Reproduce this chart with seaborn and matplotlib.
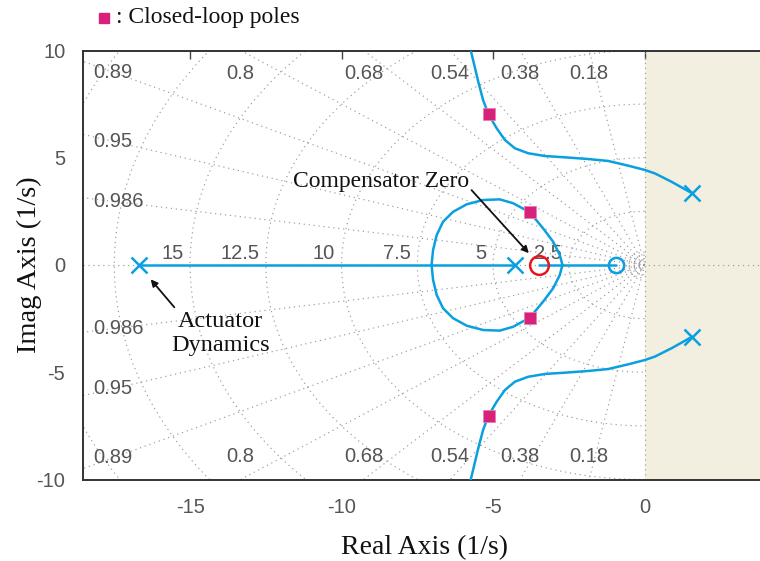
import numpy as np
import pandas as pd
import matplotlib
matplotlib.use("Agg")
import matplotlib.pyplot as plt
from matplotlib.lines import Line2D
import seaborn as sns

# Open-loop poles (x) and zeros (o)
pole_re = [-16.69, -4.28, 1.56, 1.56]
pole_im = [0.0, 0.0, 3.35, -3.35]
plant_zero_re = [-0.95]
plant_zero_im = [0.0]
comp_zero_re = [-3.5]
comp_zero_im = [0.0]

# Closed-loop poles at the chosen gain
cl_re = [-5.15, -3.79, -3.79, -5.15]
cl_im = [7.02, 2.46, -2.46, -7.02]

# Branch leaving the unstable pole pair (upper half, lower half is its conjugate)
branch_re = [1.56, 0.89, 0.34, 0.01, -0.54, -1.20, -1.86, -2.63, -3.29, -3.84,
             -4.28, -4.61, -4.88, -5.15, -5.33, -5.49, -5.62, -5.74]
branch_im = [3.35, 3.88, 4.27, 4.43, 4.63, 4.85, 4.94, 5.02, 5.08, 5.21,
             5.44, 5.83, 6.37, 7.02, 7.69, 8.55, 9.32, 10.02]

# Loop between breakaway and break-in points on the real axis (upper half)
loop_re = [-7.03, -6.98, -6.86, -6.65, -6.32, -5.87, -5.33, -4.78, -4.34,
           -3.79, -3.35, -3.02, -2.80, -2.71]
loop_im = [0.0, 0.70, 1.40, 2.02, 2.48, 2.83, 3.03, 3.06, 2.88,
           2.46, 1.71, 1.09, 0.47, 0.0]

# Real-axis locus segments
seg_a_re = [-16.69, -4.28]
seg_b_re = [-3.5, -0.95]

# s-plane grid
zeta_vals = [0.18, 0.38, 0.54, 0.68, 0.8, 0.89, 0.95, 0.986]
zeta_labels = ["0.18", "0.38", "0.54", "0.68", "0.8", "0.89", "0.95", "0.986"]
wn_vals = [2.5, 5, 7.5, 10, 12.5, 15, 17.5, 20]
wn_labels = ["2.5", "5", "7.5", "10", "12.5", "15", "", ""]
wn_small = [0.15, 0.3, 0.45, 0.6]

x_ticks = [-15, -10, -5, 0]
y_ticks = [-10, -5, 0, 5, 10]

LOCUS = "#0aa0e0"
RED = "#e8141e"
MAGENTA = "#d6227a"
BEIGE = "#f3efe0"
GRID = "#9a9a9a"
TICK_GRAY = "#555555"
SANS = ["Liberation Sans", "DejaVu Sans"]
SERIF = ["Liberation Serif", "DejaVu Serif"]

sns.set_theme(style="white")
plt.rcParams["font.family"] = SANS

fig = plt.figure(figsize=(7.6, 5.61), dpi=100)
ax = fig.add_axes([83.4 / 760, 81.5 / 561, 682.4 / 760, 429 / 561])
ax.set_xlim(-18.52, 4.0)
ax.set_ylim(-10, 10)

# right half-plane shading
ax.axvspan(0, 6, color=BEIGE, lw=0, zorder=0)

grid_kw = dict(color=GRID, lw=0.85, ls=(0, (1, 3.2)), zorder=1)
for z in zeta_vals:
    th = np.arccos(z)
    r = np.array([0.0, 40.0])
    ax.plot(-r * np.cos(th), r * np.sin(th), **grid_kw)
    ax.plot(-r * np.cos(th), -r * np.sin(th), **grid_kw)
ax.axhline(0, **grid_kw)
ax.axvline(0, **grid_kw)
t = np.linspace(np.pi / 2, 3 * np.pi / 2, 240)
for w in wn_vals + wn_small:
    ax.plot(w * np.cos(t), w * np.sin(t), **grid_kw)

lab_kw = dict(color=TICK_GRAY, fontsize=14.5, family=SANS, zorder=2)
for z, lab in zip(zeta_vals, zeta_labels):
    th = np.arccos(z)
    x_top = -10 / np.tan(th)
    if x_top > -18.0:
        ax.text(x_top, 8.95, lab, ha="center", va="center", **lab_kw)
        ax.text(x_top, -8.95, lab, ha="center", va="center", **lab_kw)
    else:
        yl = 17.5 * np.tan(th)
        ax.text(-18.2, yl, lab, ha="left", va="center", **lab_kw)
        ax.text(-18.2, -yl, lab, ha="left", va="center", **lab_kw)
for w, lab in zip(wn_vals, wn_labels):
    if lab:
        ax.text(-w - 0.22, 0.3, lab, ha="right", va="baseline", **lab_kw)

# root-locus branches
line_kw = dict(color=LOCUS, lw=1.8, sort=False, estimator=None, legend=False, ax=ax, zorder=3)
sns.lineplot(x=branch_re, y=branch_im, **line_kw)
sns.lineplot(x=branch_re, y=[-v for v in branch_im], **line_kw)
sns.lineplot(x=loop_re, y=loop_im, **line_kw)
sns.lineplot(x=loop_re, y=[-v for v in loop_im], **line_kw)
sns.lineplot(x=seg_a_re, y=[0, 0], **line_kw)
sns.lineplot(x=seg_b_re, y=[0, 0], **line_kw)

# poles and zeros
ax.plot(pole_re, pole_im, ls="none", marker="x", ms=11.5, mew=1.8, color=LOCUS, zorder=4)
ax.plot(plant_zero_re, plant_zero_im, ls="none", marker="o", ms=11, mew=1.8,
        mfc="none", mec=LOCUS, zorder=4)
ax.plot(comp_zero_re, comp_zero_im, ls="none", marker="o", ms=13.5, mew=1.8,
        mfc="none", mec=RED, zorder=4)
sns.scatterplot(x=cl_re, y=cl_im, marker="s", s=64, color=MAGENTA, edgecolor="#f07ab0",
                linewidth=0.6, ax=ax, zorder=5, legend=False)

# annotations
ann_kw = dict(arrowprops=dict(arrowstyle="-|>", color="#111111", lw=1.3,
                              mutation_scale=10, shrinkA=0, shrinkB=0))
ax.annotate("", xy=(-3.82, 0.55), xytext=(-5.71, 3.49), **ann_kw)
ax.text(-8.69, 3.87, "Compensator Zero", ha="center", va="center",
        fontsize=17, family=SERIF, color="#111111", zorder=6)
ax.annotate("", xy=(-16.3, -0.67), xytext=(-15.52, -1.97), **ann_kw)
ax.text(-14.0, -3.2, "Actuator\nDynamics", ha="center", va="center",
        fontsize=17.5, family=SERIF, color="#111111", linespacing=1.15, zorder=6)

# axes styling
ax.set_xticks(x_ticks)
ax.set_yticks(y_ticks)
ax.set_xticklabels([str(v) for v in x_ticks])
ax.set_yticklabels([str(v) for v in y_ticks])
ax.tick_params(axis="both", direction="in", length=6, width=1.0, color="#444444",
               labelcolor=TICK_GRAY, labelsize=14.5, top=True, right=False)
ax.tick_params(axis="x", pad=13)
ax.tick_params(axis="y", pad=13)
for side in ["left", "bottom", "top"]:
    ax.spines[side].set_color("#333333")
    ax.spines[side].set_linewidth(1.4)
ax.spines["right"].set_visible(False)
ax.set_xlabel("Real Axis (1/s)", family=SERIF, fontsize=20, color="#111111", labelpad=13)
ax.set_ylabel("Imag Axis (1/s)", family=SERIF, fontsize=20.5, color="#111111", labelpad=-4)

# key for the closed-loop pole markers
fig.add_artist(Line2D([104 / 760], [1 - 18 / 561], marker="s", ms=7.5, ls="none",
                      color=MAGENTA, transform=fig.transFigure))
fig.text(116 / 760, 1 - 18 / 561, ": Closed-loop poles", ha="left", va="center",
         fontsize=17, family=SERIF, color="#111111")

fig.savefig("out.png", dpi=100)
